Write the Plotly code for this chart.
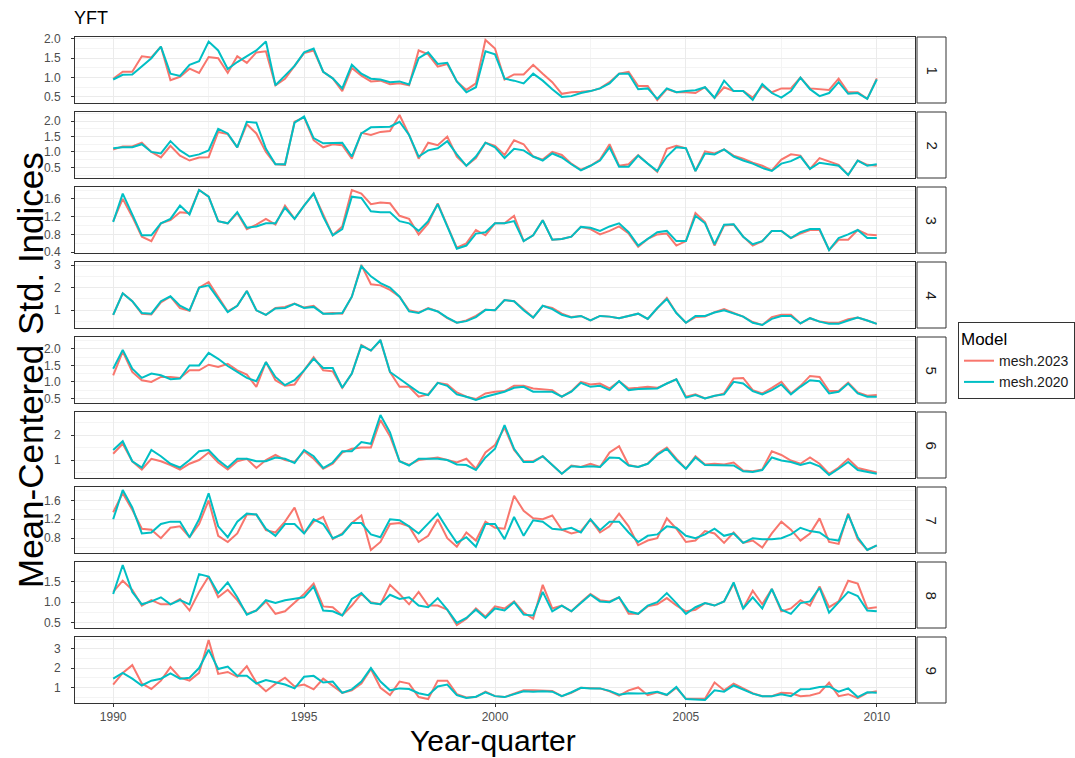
import plotly.graph_objects as go
from plotly.subplots import make_subplots

quarters = [1990 + i * 0.25 for i in range(81)]
models = ["mesh.2023", "mesh.2020"]
colors = {"mesh.2023": "#F8766D", "mesh.2020": "#00BFC4"}
regions = ["1", "2", "3", "4", "5", "6", "7", "8", "9"]
x_ticks = [1990, 1995, 2000, 2005, 2010]

r1_2020 = [0.95,1.07,1.08,1.3,1.5,1.8,1.1,1.04,1.33,1.42,
           1.93,1.7,1.22,1.4,1.55,1.7,1.93,0.8,1.05,1.3,
           1.65,1.75,1.15,0.98,0.72,1.33,1.1,0.97,0.95,0.88,
           0.9,0.82,1.5,1.65,1.35,1.38,0.9,0.62,0.75,1.68,
           1.6,0.97,0.92,0.85,1.1,0.92,0.7,0.5,0.52,0.6,
           0.65,0.72,0.85,1.1,1.1,0.7,0.72,0.45,0.72,0.62,
           0.65,0.67,0.75,0.48,0.92,0.65,0.65,0.42,0.83,0.6,
           0.48,0.65,1.0,0.7,0.52,0.6,0.88,0.58,0.6,0.45,0.95]
r1_2023 = [0.97,1.15,1.15,1.55,1.52,1.8,0.93,1.02,1.23,1.12,
           1.53,1.5,1.12,1.55,1.38,1.65,1.68,0.8,0.97,1.3,
           1.63,1.7,1.15,0.98,0.65,1.25,1.05,0.9,0.92,0.83,
           0.85,0.8,1.7,1.6,1.28,1.35,0.9,0.68,0.85,1.97,
           1.75,0.95,1.08,1.08,1.33,1.1,0.88,0.58,0.62,0.63,
           0.65,0.72,0.88,1.1,1.15,0.78,0.78,0.42,0.7,0.62,
           0.62,0.6,0.75,0.47,0.75,0.65,0.65,0.48,0.78,0.62,
           0.72,0.72,1.0,0.72,0.7,0.68,0.97,0.62,0.62,0.45,0.98]

r2_2020 = [1.12,1.15,1.15,1.25,1.0,0.95,1.35,1.05,0.85,0.92,
           1.05,1.75,1.6,1.15,1.98,1.95,1.1,0.6,0.6,1.95,
           2.15,1.45,1.28,1.3,1.3,0.85,1.6,1.8,1.8,1.82,
           1.98,1.55,0.85,1.05,1.12,1.35,0.92,0.55,0.85,1.3,
           1.15,0.8,1.1,1.05,0.85,0.72,0.95,0.82,0.6,0.4,
           0.55,0.72,1.15,0.52,0.52,0.88,0.62,0.38,0.85,1.15,
           1.12,0.38,0.95,0.92,1.08,0.85,0.72,0.62,0.48,0.38,
           0.62,0.7,0.85,0.45,0.65,0.6,0.55,0.25,0.72,0.55,0.6]
r2_2023 = [1.08,1.18,1.18,1.3,1.0,0.82,1.2,0.88,0.72,0.82,
           0.83,1.65,1.58,1.15,1.9,1.6,1.0,0.6,0.58,1.98,
           2.12,1.38,1.15,1.25,1.22,0.78,1.62,1.55,1.65,1.68,
           2.2,1.55,0.78,1.3,1.22,1.5,0.85,0.55,0.8,1.3,
           1.2,0.9,1.38,1.25,0.85,0.75,1.0,0.9,0.62,0.42,
           0.55,0.75,1.25,0.55,0.6,0.9,0.62,0.35,1.1,1.2,
           1.12,0.38,1.02,0.95,1.08,0.88,0.78,0.65,0.55,0.4,
           0.75,0.92,0.88,0.45,0.8,0.68,0.58,0.25,0.72,0.58,0.55]

r3_2020 = [1.08,1.72,1.25,0.78,0.78,1.05,1.15,1.45,1.25,1.8,
           1.65,1.1,1.05,1.3,0.95,0.98,1.05,1.05,1.4,1.15,
           1.45,1.72,1.2,0.78,0.92,1.65,1.62,1.32,1.3,1.3,
           1.1,1.05,0.88,1.1,1.48,1.0,0.48,0.55,0.82,0.85,
           1.05,1.05,1.1,0.65,0.78,1.12,0.68,0.7,0.75,0.97,
           0.95,0.88,0.98,1.05,0.85,0.55,0.7,0.85,0.88,0.65,
           0.65,1.22,1.05,0.58,1.02,1.03,0.75,0.58,0.65,0.88,
           0.88,0.72,0.85,0.92,0.92,0.45,0.72,0.8,0.9,0.72,0.72]
r3_2023 = [1.1,1.6,1.2,0.75,0.65,1.05,1.12,1.3,1.28,1.8,
           1.65,1.1,1.05,1.28,0.92,1.02,1.15,1.02,1.45,1.15,
           1.45,1.72,1.25,0.78,0.98,1.8,1.72,1.48,1.52,1.5,
           1.22,1.15,0.8,1.05,1.5,1.0,0.5,0.6,0.9,0.78,
           1.05,1.05,1.22,0.65,0.78,1.12,0.68,0.7,0.75,0.97,
           0.92,0.8,0.88,0.98,0.82,0.52,0.7,0.8,0.82,0.55,
           0.65,1.28,1.08,0.55,1.0,1.02,0.75,0.55,0.65,0.88,
           0.88,0.72,0.82,0.9,0.9,0.45,0.68,0.68,0.9,0.8,0.78]

r4_2020 = [0.8,1.75,1.4,0.88,0.85,1.4,1.62,1.2,1.0,2.0,
           2.1,1.5,0.92,1.2,1.85,1.0,0.8,1.08,1.1,1.28,
           1.1,1.15,0.85,0.85,0.88,1.6,2.95,2.5,2.2,2.0,
           1.6,0.95,0.88,1.08,0.95,0.68,0.45,0.52,0.7,1.02,
           1.0,1.45,1.4,1.0,0.68,1.2,1.05,0.8,0.68,0.75,
           0.55,0.75,0.72,0.65,0.75,0.85,0.62,1.1,1.5,0.88,
           0.45,0.75,0.75,0.9,1.0,0.85,0.72,0.45,0.35,0.62,
           0.75,0.75,0.42,0.65,0.5,0.4,0.4,0.55,0.68,0.55,0.4]
r4_2023 = [0.8,1.75,1.4,0.85,0.82,1.35,1.6,1.1,0.98,2.0,
           2.25,1.6,0.95,1.2,1.85,1.0,0.8,1.1,1.15,1.3,
           1.12,1.2,0.85,0.88,0.85,1.6,3.0,2.15,2.1,1.9,
           1.6,1.0,0.9,1.1,0.95,0.65,0.45,0.55,0.75,1.02,
           1.0,1.45,1.4,1.05,0.68,1.2,1.1,0.85,0.7,0.75,
           0.55,0.75,0.72,0.65,0.75,0.85,0.62,1.1,1.55,0.88,
           0.45,0.7,0.72,0.92,1.05,0.88,0.72,0.48,0.35,0.7,
           0.8,0.8,0.42,0.65,0.5,0.45,0.45,0.6,0.68,0.55,0.4]

r5_2020 = [1.4,1.97,1.4,1.12,1.25,1.2,1.08,1.1,1.5,1.5,
           1.88,1.7,1.48,1.3,1.12,1.02,1.6,1.15,0.9,1.05,
           1.35,1.7,1.42,1.42,0.82,1.25,2.1,1.95,2.27,1.3,
           1.1,0.9,0.68,0.6,0.97,0.88,0.62,0.55,0.45,0.55,
           0.62,0.7,0.82,0.85,0.7,0.7,0.7,0.55,0.7,0.97,
           0.85,0.88,0.75,1.02,0.75,0.78,0.8,0.8,0.95,1.08,
           0.52,0.6,0.5,0.58,0.62,1.0,0.95,0.72,0.62,0.75,
           0.92,0.62,0.85,1.05,1.02,0.65,0.7,0.95,0.65,0.55,0.55]
r5_2023 = [1.2,1.92,1.3,1.05,1.0,1.15,1.15,1.12,1.35,1.35,
           1.52,1.45,1.55,1.35,1.22,0.85,1.6,1.05,0.88,0.92,
           1.35,1.75,1.35,1.32,0.82,1.25,2.12,1.95,2.25,1.3,
           0.85,0.85,0.55,0.62,0.97,0.92,0.68,0.55,0.48,0.65,
           0.7,0.72,0.88,0.88,0.8,0.78,0.75,0.55,0.72,1.0,
           0.92,0.95,0.8,1.02,0.8,0.82,0.85,0.82,0.95,1.08,
           0.55,0.62,0.5,0.58,0.65,1.1,1.12,0.75,0.65,0.82,
           1.0,0.65,0.88,1.18,1.15,0.72,0.72,0.98,0.68,0.58,0.6]

r6_2020 = [1.4,1.75,0.95,0.7,1.4,1.15,0.85,0.7,1.0,1.35,
           1.4,1.0,0.7,1.05,1.05,0.95,0.95,1.1,1.05,0.88,
           1.4,1.15,0.68,0.9,1.35,1.35,1.72,1.65,2.8,2.1,
           0.95,0.78,1.05,1.05,1.05,1.0,0.82,0.8,0.6,1.1,
           1.45,2.4,1.45,0.92,0.92,1.15,0.8,0.45,0.75,0.72,
           0.75,0.72,1.1,1.08,0.78,0.72,0.85,1.2,1.45,1.0,
           0.65,1.1,0.8,0.8,0.78,0.78,0.55,0.52,0.6,1.1,
           0.98,0.92,0.8,0.9,0.75,0.4,0.65,0.92,0.6,0.52,0.45]
r6_2023 = [1.25,1.65,0.95,0.62,1.05,0.95,0.8,0.62,0.85,1.0,
           1.3,0.9,0.62,0.95,1.05,0.68,1.0,1.2,1.0,0.92,
           1.35,1.05,0.65,0.85,1.3,1.45,1.5,1.5,2.6,1.95,
           0.95,0.8,1.0,1.05,1.1,1.0,0.9,1.05,0.65,1.3,
           1.6,2.3,1.4,0.95,0.95,1.15,0.8,0.45,0.78,0.72,
           0.85,0.72,1.3,1.55,0.8,0.72,0.85,1.25,1.5,1.05,
           0.65,1.15,0.82,0.85,0.82,0.9,0.58,0.55,0.62,1.35,
           1.2,0.98,0.85,1.1,0.85,0.45,0.7,1.05,0.68,0.6,0.5]

r7_2020 = [1.2,1.82,1.45,0.9,0.92,1.1,1.15,1.15,0.82,1.2,
           1.75,1.05,0.82,1.15,1.32,1.3,1.0,0.85,1.1,1.1,
           0.9,1.2,1.1,0.8,0.88,1.12,1.12,0.88,0.82,1.2,
           1.18,1.05,0.9,1.12,1.32,1.0,0.7,0.82,0.62,1.1,
           1.1,0.78,1.25,0.85,1.18,1.15,1.0,0.98,1.02,0.92,
           1.2,0.97,1.15,1.15,0.92,0.72,0.85,0.88,1.05,1.02,
           0.85,0.8,0.88,1.0,0.85,0.9,0.7,0.8,0.78,0.78,
           0.8,0.88,1.02,0.95,0.92,0.78,0.75,1.3,0.82,0.55,0.65]
r7_2023 = [1.35,1.75,1.4,1.0,0.98,0.8,1.02,1.05,0.82,1.1,
           1.6,0.85,0.72,0.9,1.3,1.3,0.97,0.92,1.15,1.45,
           0.9,1.15,1.25,0.78,0.9,1.12,1.28,0.55,0.72,1.1,
           1.12,1.05,0.72,0.85,1.2,0.8,0.62,0.92,0.75,1.15,
           1.02,1.0,1.7,1.38,1.22,1.2,1.28,0.98,0.9,0.95,
           1.2,0.92,1.05,1.32,1.05,0.65,0.75,0.8,1.22,1.0,
           0.72,0.75,0.95,0.9,0.7,0.92,0.7,0.75,0.6,0.9,
           1.15,0.98,0.75,0.9,1.22,0.72,0.68,1.32,0.78,0.55,0.65]

r8_2020 = [1.2,1.9,1.25,0.95,1.02,1.12,0.95,1.05,0.95,1.68,
           1.62,1.22,1.48,1.12,0.7,0.8,1.05,0.98,1.05,1.08,
           1.12,1.38,0.8,0.78,0.68,1.08,1.22,0.98,0.95,1.18,
           1.08,1.12,0.92,0.88,1.1,0.82,0.5,0.62,0.82,0.62,
           0.85,0.8,1.0,0.7,0.68,1.25,0.78,0.92,0.78,0.98,
           1.18,1.02,1.0,1.12,0.78,0.72,0.92,1.0,1.22,0.98,
           0.72,0.88,0.98,0.92,1.02,1.48,0.85,1.12,0.85,1.32,
           0.82,0.72,0.98,1.02,1.35,0.75,1.0,1.25,1.15,0.8,0.78]
r8_2023 = [1.25,1.52,1.3,0.92,1.05,0.95,0.95,1.08,0.8,1.25,
           1.62,1.12,1.3,1.05,0.72,0.8,1.02,0.72,0.78,0.98,
           1.2,1.45,0.9,0.88,0.68,0.92,1.2,1.0,0.95,1.42,
           1.2,0.95,1.25,0.92,0.92,0.82,0.45,0.6,0.85,0.65,
           0.9,0.85,1.02,0.75,0.6,1.42,0.85,0.92,0.78,1.0,
           1.2,1.05,1.02,1.12,0.72,0.72,0.9,0.95,1.1,0.92,
           0.78,0.82,0.98,0.92,1.02,1.45,0.85,1.28,0.95,1.32,
           0.78,0.85,1.05,0.92,1.38,0.88,1.02,1.52,1.45,0.85,0.88]

r9_2020 = [1.45,1.75,1.45,1.1,1.35,1.45,1.72,1.45,1.5,2.0,
           2.95,1.95,2.08,1.6,1.6,1.2,1.38,1.25,1.15,0.95,
           1.55,1.6,1.25,1.3,0.72,0.9,1.3,2.0,1.3,0.85,
           0.95,0.92,0.7,0.6,1.05,1.15,0.6,0.45,0.52,0.75,
           0.55,0.5,0.65,0.8,0.78,0.8,0.78,0.55,0.75,0.98,
           0.95,0.95,0.82,0.62,0.7,0.68,0.7,0.78,0.62,1.02,
           0.4,0.38,0.35,0.85,0.78,1.1,0.88,0.68,0.55,0.55,
           0.65,0.55,0.9,0.92,1.02,1.05,0.78,0.95,0.5,0.75,0.72]
r9_2023 = [1.15,1.75,2.15,1.2,0.92,1.35,2.05,1.5,1.35,1.75,
           3.45,1.7,1.8,1.55,2.1,1.25,0.8,1.18,1.5,1.05,
           1.15,0.9,1.45,1.1,0.72,0.85,1.2,1.95,0.98,0.6,
           1.3,1.2,0.5,0.4,1.35,1.35,0.65,0.48,0.5,0.78,
           0.55,0.5,0.68,0.85,0.85,0.85,0.82,0.55,0.72,0.98,
           0.98,0.95,0.8,0.58,0.85,1.0,0.6,0.75,0.6,0.98,
           0.42,0.42,0.42,1.25,0.85,1.2,0.95,0.7,0.55,0.55,
           0.72,0.7,0.55,0.58,0.72,1.25,0.55,0.65,0.45,0.72,0.8]

series = {
    "1": {"mesh.2023": r1_2023, "mesh.2020": r1_2020},
    "2": {"mesh.2023": r2_2023, "mesh.2020": r2_2020},
    "3": {"mesh.2023": r3_2023, "mesh.2020": r3_2020},
    "4": {"mesh.2023": r4_2023, "mesh.2020": r4_2020},
    "5": {"mesh.2023": r5_2023, "mesh.2020": r5_2020},
    "6": {"mesh.2023": r6_2023, "mesh.2020": r6_2020},
    "7": {"mesh.2023": r7_2023, "mesh.2020": r7_2020},
    "8": {"mesh.2023": r8_2023, "mesh.2020": r8_2020},
    "9": {"mesh.2023": r9_2023, "mesh.2020": r9_2020},
}
# y tick spec per panel: (first tick, step, format)
y_ticks = {
    "1": (0.5, 0.5, ".1f"), "2": (0.5, 0.5, ".1f"), "3": (0.4, 0.4, ".1f"),
    "4": (1, 1, "d"), "5": (0.5, 0.5, ".1f"), "6": (1, 1, "d"),
    "7": (0.8, 0.4, ".1f"), "8": (0.5, 0.5, ".1f"), "9": (1, 1, "d"),
}

for reg in regions:
    for m in models:
        assert len(series[reg][m]) == 81, (reg, m, len(series[reg][m]))

W, H = 1075, 758
ML, MR, MT, MB = 75, 160, 37, 55
PW = W - ML - MR
PH = H - MT - MB
GAP = 9

fig = make_subplots(rows=9, cols=1, shared_xaxes=True, vertical_spacing=GAP / PH)

FONT = "Liberation Sans, Arial, Helvetica, sans-serif"
BORDER = "#333333"
GRID = "#EBEBEB"
MINOR = "#F4F4F4"

for r, reg in enumerate(regions, start=1):
    allv = series[reg]["mesh.2023"] + series[reg]["mesh.2020"]
    lo, hi = min(allv), max(allv)
    pad = 0.05 * (hi - lo)
    for m in models:
        fig.add_trace(go.Scatter(
            x=quarters, y=series[reg][m], mode="lines", name=m,
            line=dict(color=colors[m], width=2),
            legendgroup=m, showlegend=(r == 1)), row=r, col=1)
    t0, dt, fmt = y_ticks[reg]
    fig.update_yaxes(
        range=[lo - pad, hi + pad], tickmode="linear", tick0=t0, dtick=dt,
        tickformat=fmt, showgrid=True, gridcolor=GRID, gridwidth=1,
        minor=dict(tick0=t0, dtick=dt / 2, showgrid=True, gridcolor=MINOR, gridwidth=1),
        showline=True, mirror=True, linecolor=BORDER, linewidth=1,
        ticks="outside", ticklen=3, tickcolor=BORDER, ticklabelstandoff=8,
        tickfont=dict(size=12, color="#4D4D4D", family=FONT),
        zeroline=False, row=r, col=1)
    fig.update_xaxes(
        range=[1989, 2011], tickmode="array", tickvals=x_ticks,
        showgrid=True, gridcolor=GRID, gridwidth=1,
        minor=dict(tick0=1990, dtick=2.5, showgrid=True, gridcolor=MINOR, gridwidth=1),
        showline=True, mirror=True, linecolor=BORDER, linewidth=1,
        ticks="outside" if r == 9 else "", ticklen=3, tickcolor=BORDER,
        tickfont=dict(size=12, color="#4D4D4D", family=FONT),
        zeroline=False, row=r, col=1)

    dom = fig.layout["yaxis" if r == 1 else f"yaxis{r}"].domain
    sx0 = (PW + 2) / PW
    sx1 = (PW + 31) / PW
    fig.add_shape(type="rect", xref="paper", yref="paper",
                  x0=sx0, x1=sx1, y0=dom[0], y1=dom[1],
                  fillcolor="white", line=dict(color=BORDER, width=1))
    fig.add_annotation(xref="paper", yref="paper", x=(sx0 + sx1) / 2,
                       y=(dom[0] + dom[1]) / 2, xanchor="center", yanchor="middle",
                       text=reg, textangle=90,
                       showarrow=False, font=dict(size=15, color="#1A1A1A", family=FONT))

fig.add_annotation(xref="paper", yref="paper", x=-3 / PW, y=1 + 19 / PH,
                   xanchor="left", yanchor="middle", text="YFT", showarrow=False,
                   font=dict(size=18, color="#000000", family=FONT))
fig.add_annotation(xref="paper", yref="paper", x=-45 / PW, y=0.5,
                   xanchor="center", yanchor="middle", text="Mean-Centered Std. Indices",
                   textangle=-90, showarrow=False,
                   font=dict(size=35, color="#000000", family=FONT))
fig.add_annotation(xref="paper", yref="paper", x=(493 - ML) / PW, y=-37 / PH,
                   xanchor="center", yanchor="middle", text="Year-quarter",
                   showarrow=False, font=dict(size=30, color="#000000", family=FONT))

fig.update_layout(
    width=W, height=H,
    margin=dict(l=ML, r=MR, t=MT, b=MB, autoexpand=False),
    paper_bgcolor="white", plot_bgcolor="white",
    font=dict(family=FONT),
    legend=dict(
        title=dict(text="Model", font=dict(size=17, color="#000000", family=FONT)),
        x=(958 - ML) / PW, y=(H - MB - 322) / PH, xanchor="left", yanchor="top",
        bordercolor=BORDER, borderwidth=1, bgcolor="white",
        font=dict(size=14, color="#1A1A1A", family=FONT),
        traceorder="normal"),
)

fig.write_html("out.html")
